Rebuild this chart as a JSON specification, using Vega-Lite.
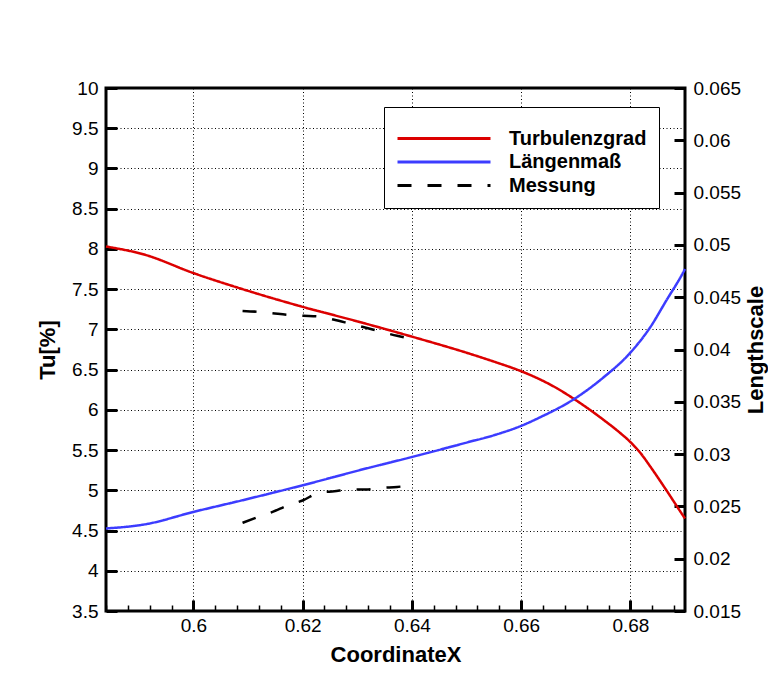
{
  "$schema": "https://vega.github.io/schema/vega-lite/v6.json",
  "width": 579,
  "height": 523,
  "autosize": {"type": "none"},
  "padding": {"left": 106, "top": 88, "right": 83, "bottom": 73},
  "background": "white",
  "config": {
    "view": {"stroke": "black", "strokeWidth": 3},
    "axis": {
      "labelFont": "Liberation Sans",
      "titleFont": "Liberation Sans",
      "labelColor": "black",
      "titleColor": "black",
      "domainColor": "black",
      "gridColor": "black",
      "labelFontSize": 19,
      "titleFontSize": 22,
      "titleFontWeight": "bold"
    },
    "legend": {"labelFont": "Liberation Sans", "titleFont": "Liberation Sans"}
  },
  "datasets": {
    "tu": [
      {"x": 0.584, "v": 8.03, "series": "Turbulenzgrad"},
      {"x": 0.591, "v": 7.93, "series": "Turbulenzgrad"},
      {"x": 0.6, "v": 7.7, "series": "Turbulenzgrad"},
      {"x": 0.609, "v": 7.5, "series": "Turbulenzgrad"},
      {"x": 0.62, "v": 7.28, "series": "Turbulenzgrad"},
      {"x": 0.63, "v": 7.1, "series": "Turbulenzgrad"},
      {"x": 0.64, "v": 6.91, "series": "Turbulenzgrad"},
      {"x": 0.65, "v": 6.71, "series": "Turbulenzgrad"},
      {"x": 0.655, "v": 6.6, "series": "Turbulenzgrad"},
      {"x": 0.66, "v": 6.48, "series": "Turbulenzgrad"},
      {"x": 0.6634, "v": 6.38, "series": "Turbulenzgrad"},
      {"x": 0.6665, "v": 6.27, "series": "Turbulenzgrad"},
      {"x": 0.6698, "v": 6.13, "series": "Turbulenzgrad"},
      {"x": 0.675, "v": 5.88, "series": "Turbulenzgrad"},
      {"x": 0.678, "v": 5.72, "series": "Turbulenzgrad"},
      {"x": 0.68, "v": 5.6, "series": "Turbulenzgrad"},
      {"x": 0.682, "v": 5.45, "series": "Turbulenzgrad"},
      {"x": 0.6836, "v": 5.3, "series": "Turbulenzgrad"},
      {"x": 0.6866, "v": 5.0, "series": "Turbulenzgrad"},
      {"x": 0.6897, "v": 4.68, "series": "Turbulenzgrad"},
      {"x": 0.69, "v": 4.65, "series": "Turbulenzgrad"},
      {"x": 0.609, "v": 7.23, "series": "Messung"},
      {"x": 0.6116, "v": 7.22, "series": "Messung"},
      {"x": 0.6145, "v": 7.2, "series": "Messung"},
      {"x": 0.6174, "v": 7.18, "series": "Messung"},
      {"x": 0.6201, "v": 7.17, "series": "Messung"},
      {"x": 0.6231, "v": 7.16, "series": "Messung"},
      {"x": 0.6258, "v": 7.12, "series": "Messung"},
      {"x": 0.6287, "v": 7.07, "series": "Messung"},
      {"x": 0.6316, "v": 7.02, "series": "Messung"},
      {"x": 0.6344, "v": 6.97, "series": "Messung"},
      {"x": 0.6373, "v": 6.92, "series": "Messung"},
      {"x": 0.64, "v": 6.88, "series": "Messung"}
    ],
    "ls": [
      {"x": 0.584, "v": 0.02289, "series": "Längenmaß"},
      {"x": 0.5913, "v": 0.0233, "series": "Längenmaß"},
      {"x": 0.6, "v": 0.02447, "series": "Längenmaß"},
      {"x": 0.609, "v": 0.02559, "series": "Längenmaß"},
      {"x": 0.62, "v": 0.02702, "series": "Längenmaß"},
      {"x": 0.6316, "v": 0.02862, "series": "Längenmaß"},
      {"x": 0.64, "v": 0.02972, "series": "Längenmaß"},
      {"x": 0.645, "v": 0.0304, "series": "Längenmaß"},
      {"x": 0.65, "v": 0.0311, "series": "Längenmaß"},
      {"x": 0.655, "v": 0.0318, "series": "Längenmaß"},
      {"x": 0.66, "v": 0.0327, "series": "Längenmaß"},
      {"x": 0.6634, "v": 0.0335, "series": "Längenmaß"},
      {"x": 0.6698, "v": 0.0353, "series": "Längenmaß"},
      {"x": 0.675, "v": 0.0373, "series": "Längenmaß"},
      {"x": 0.68, "v": 0.0397, "series": "Längenmaß"},
      {"x": 0.6836, "v": 0.0421, "series": "Längenmaß"},
      {"x": 0.6866, "v": 0.0447, "series": "Längenmaß"},
      {"x": 0.6897, "v": 0.0474, "series": "Längenmaß"},
      {"x": 0.69, "v": 0.0477, "series": "Längenmaß"},
      {"x": 0.609, "v": 0.02343, "series": "Messung"},
      {"x": 0.6116, "v": 0.02394, "series": "Messung"},
      {"x": 0.6145, "v": 0.02448, "series": "Messung"},
      {"x": 0.6174, "v": 0.02511, "series": "Messung"},
      {"x": 0.6201, "v": 0.02559, "series": "Messung"},
      {"x": 0.6229, "v": 0.02629, "series": "Messung"},
      {"x": 0.6258, "v": 0.02645, "series": "Messung"},
      {"x": 0.6287, "v": 0.02661, "series": "Messung"},
      {"x": 0.6316, "v": 0.02661, "series": "Messung"},
      {"x": 0.6344, "v": 0.02677, "series": "Messung"},
      {"x": 0.6373, "v": 0.02686, "series": "Messung"},
      {"x": 0.64, "v": 0.02702, "series": "Messung"}
    ]
  },
  "layer": [
    {
      "data": {"name": "tu"},
      "mark": {"type": "line", "strokeWidth": 2.5, "interpolate": "monotone"},
      "encoding": {
        "x": {
          "field": "x", "type": "quantitative",
          "scale": {"domain": [0.584, 0.69], "nice": false, "zero": false},
          "axis": {
            "orient": "bottom",
            "offset": -11,
            "values": [0.6, 0.62, 0.64, 0.66, 0.68],
            "format": "~g",
            "ticks": true, "tickSize": 11, "tickWidth": 3, "tickColor": "#000000",
            "domain": false,
            "grid": true, "gridDash": [1, 2.5], "gridWidth": 1,
            "labelPadding": 5,
            "title": "CoordinateX",
            "titlePadding": 9
          }
        },
        "y": {
          "field": "v", "type": "quantitative",
          "scale": {"domain": [3.5, 10], "nice": false, "zero": false},
          "axis": {
            "orient": "left",
            "offset": -11,
            "values": [3.5, 4, 4.5, 5, 5.5, 6, 6.5, 7, 7.5, 8, 8.5, 9, 9.5, 10],
            "format": "~g",
            "ticks": true, "tickSize": 11, "tickWidth": 3, "tickColor": "#000000",
            "domain": false,
            "grid": true, "gridDash": [1, 2.5], "gridWidth": 1,
            "labelPadding": 8,
            "title": "Tu[%]",
            "titlePadding": 12
          }
        },
        "color": {
          "field": "series", "type": "nominal",
          "scale": {"domain": ["Turbulenzgrad", "Längenmaß", "Messung"], "range": ["#dc0000", "#3c3cff", "#000000"]},
          "legend": {
            "orient": "none", "legendX": 278, "legendY": 19,
            "title": " ", "titleFontSize": 6, "titlePadding": 2,
            "symbolType": "M-1,0H8.3", "symbolSize": 400, "symbolStrokeWidth": 3,
            "labelFontSize": 20, "labelFontWeight": "bold", "labelColor": "black",
            "labelOffset": 90, "rowPadding": 1.5,
            "padding": 12,
            "strokeColor": "black", "fillColor": "white"
          }
        },
        "strokeDash": {
          "field": "series", "type": "nominal",
          "scale": {"domain": ["Turbulenzgrad", "Längenmaß", "Messung"], "range": [[1, 0], [1, 0], [14, 16]]},
          "legend": {
            "orient": "none", "legendX": 278, "legendY": 19,
            "title": " ", "titleFontSize": 6, "titlePadding": 2,
            "symbolType": "M-1,0H8.3", "symbolSize": 400, "symbolStrokeWidth": 3,
            "labelFontSize": 20, "labelFontWeight": "bold", "labelColor": "black",
            "labelOffset": 90, "rowPadding": 1.5,
            "padding": 12,
            "strokeColor": "black", "fillColor": "white"
          }
        }
      }
    },
    {
      "data": {"name": "ls"},
      "mark": {"type": "line", "strokeWidth": 2.5, "interpolate": "monotone"},
      "encoding": {
        "x": {
          "field": "x", "type": "quantitative", "scale": {"domain": [0.584, 0.69], "nice": false, "zero": false},
          "axis": {
            "orient": "bottom",
            "offset": -6,
            "values": [0.584, 0.588, 0.592, 0.596, 0.604, 0.608, 0.612, 0.616, 0.624, 0.628, 0.632, 0.636, 0.644, 0.648, 0.652, 0.656, 0.664, 0.668, 0.672, 0.676, 0.684, 0.688],
            "labels": false, "domain": false, "grid": false,
            "ticks": true, "tickSize": 6, "tickWidth": 1.5, "tickColor": "#000000",
            "title": null
          }
        },
        "y": {
          "field": "v", "type": "quantitative",
          "scale": {"domain": [0.015, 0.065], "nice": false, "zero": false},
          "axis": {
            "orient": "right",
            "offset": -11,
            "values": [0.015, 0.02, 0.025, 0.03, 0.035, 0.04, 0.045, 0.05, 0.055, 0.06, 0.065],
            "format": "~g",
            "ticks": true, "tickSize": 11, "tickWidth": 3, "tickColor": "#000000",
            "domain": false,
            "grid": false,
            "labelPadding": 8,
            "title": "Lengthscale",
            "titleAngle": 270,
            "titleBaseline": "top",
            "titlePadding": 5
          }
        },
        "color": {"field": "series", "type": "nominal", "scale": {"domain": ["Turbulenzgrad", "Längenmaß", "Messung"], "range": ["#dc0000", "#3c3cff", "#000000"]}},
        "strokeDash": {"field": "series", "type": "nominal", "scale": {"domain": ["Turbulenzgrad", "Längenmaß", "Messung"], "range": [[1, 0], [1, 0], [14, 16]]}}
      }
    }
  ],
  "resolve": {
    "scale": {"y": "independent"},
    "axis": {"x": "independent", "y": "independent"}
  }
}
